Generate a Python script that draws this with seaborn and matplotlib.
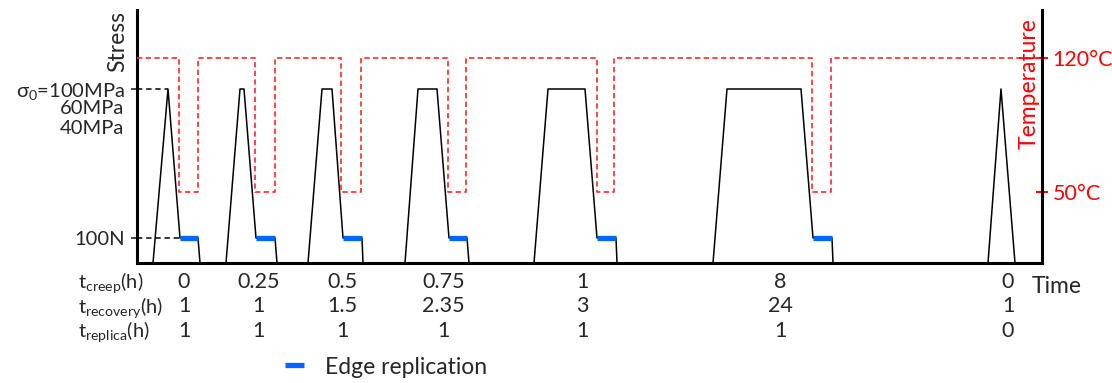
import matplotlib.pyplot as plt
import matplotlib.transforms as mtransforms
import pandas as pd
import seaborn as sns
from matplotlib.lines import Line2D

# ── Cycle schematic (time in arbitrary drawing units) ──────────
RISE_START = [16, 89, 171, 268, 397, 576, 851]
PEAK_START = [31, 103, 185, 281, 411, 590, 864]
PEAK_END = [31, 107, 195, 300, 448, 664, 864]
HOLD_START = [43, 119, 206, 312, 460, 676, None]
HOLD_END = [61, 138, 225, 330, 479, 695, None]
CYCLE_END = [63, 140, 226, 332, 480, 696, 878]
TIME_END = 905

STRESS_PEAK = 100     # sigma_0 (MPa)
STRESS_HOLD = 14.4    # 100 N load kept during replication
STRESS_TOP = 145.4

TEMP_DROP = [42, 118, 204, 311, 460, 675]
TEMP_BACK = [61, 138, 224, 329, 477, 694]
TEMP_HIGH = 120
TEMP_LOW = 50
TEMP_LIMITS = (12.9, 145.1)

T_CREEP = ["0", "0.25", "0.5", "0.75", "1", "8", "0"]
T_RECOVERY = ["1", "1", "1.5", "2.35", "3", "24", "1"]
T_REPLICA = ["1", "1", "1", "1", "1", "1", "0"]
ROW_LABELS = [r"t$_{\mathrm{creep}}$(h)",
              r"t$_{\mathrm{recovery}}$(h)",
              r"t$_{\mathrm{replica}}$(h)"]
STRESS_LABELS = ["100N", r"σ$_0$=100MPa"]
EXTRA_STRESS = ["60MPa", "40MPa"]

# ── Style ─────────────────────────────────────────────────────
W, H = 1112, 383
FS = 14.5          # stress tick labels and row labels
FS_TAB = 15.5      # values of the table below the time axis
FS_BIG = 16.5      # axis titles and legend
RED = "#ff0000"
RED_LINE = "#ff2a2a"
BLUE = "#0066ff"

sns.set_theme(style="ticks")
plt.rcParams["font.family"] = ["Lato", "DejaVu Sans"]
plt.rcParams["mathtext.fontset"] = "custom"
plt.rcParams["mathtext.rm"] = "Lato"
plt.rcParams["mathtext.it"] = "Lato:italic"
plt.rcParams["mathtext.bf"] = "Lato:bold"


def px(x, y):
    """Pixel position -> figure fraction."""
    return x / W, 1 - y / H


# ── Data tables ───────────────────────────────────────────────
stress_rows, hold_rows = [], []
for i in range(len(RISE_START)):
    pts = [(RISE_START[i], 0), (PEAK_START[i], STRESS_PEAK), (PEAK_END[i], STRESS_PEAK)]
    if float(T_REPLICA[i]) > 0:
        pts += [(HOLD_START[i], STRESS_HOLD), (HOLD_END[i], STRESS_HOLD)]
        hold_rows += [{"ciclo": i, "t": HOLD_START[i], "s": STRESS_HOLD},
                      {"ciclo": i, "t": HOLD_END[i], "s": STRESS_HOLD}]
    pts.append((CYCLE_END[i], 0))
    stress_rows += [{"ciclo": i, "t": t, "s": s} for t, s in pts]
df_stress = pd.DataFrame(stress_rows)
df_hold = pd.DataFrame(hold_rows)

temp_t, temp_v = [0], [TEMP_HIGH]
for a, b in zip(TEMP_DROP, TEMP_BACK):
    temp_t += [a, a, b, b]
    temp_v += [TEMP_HIGH, TEMP_LOW, TEMP_LOW, TEMP_HIGH]
temp_t.append(TIME_END)
temp_v.append(TEMP_HIGH)
df_temp = pd.DataFrame({"t": temp_t, "T": temp_v})

# ── Figure ────────────────────────────────────────────────────
fig = plt.figure(figsize=(W / 100, H / 100), dpi=100)
ax = fig.add_axes([137 / W, 1 - 263 / H, 905 / W, 253 / H])

sns.lineplot(data=df_stress, x="t", y="s", units="ciclo", estimator=None,
             sort=False, color="black", lw=1.1, ax=ax)
sns.lineplot(data=df_hold, x="t", y="s", units="ciclo", estimator=None,
             sort=False, color=BLUE, lw=3.8, solid_capstyle="butt", ax=ax)

# reference dashes from the stress axis
ax.plot([0, PEAK_START[0]], [STRESS_PEAK] * 2, color="black", lw=1.1, ls=(0, (3.5, 2.5)))
ax.plot([0, HOLD_START[0]], [STRESS_HOLD] * 2, color="black", lw=1.1, ls=(0, (3.5, 2.5)))

ax.set_xlim(0, TIME_END)
ax.set_ylim(0, STRESS_TOP)
ax.set(xlabel="", ylabel="")
ax.set_xticks([])
ax.set_yticks([STRESS_HOLD, STRESS_PEAK], labels=STRESS_LABELS)
ax.tick_params(axis="y", direction="out", length=4, width=1.2, labelsize=FS, pad=5)
for side in ["top", "right"]:
    ax.spines[side].set_visible(False)
for side in ["left", "bottom"]:
    ax.spines[side].set_linewidth(2.2)
    ax.spines[side].set_color("black")

ax2 = ax.twinx()
sns.lineplot(data=df_temp, x="t", y="T", estimator=None, sort=False,
             color=RED_LINE, lw=1.2, ls=(0, (3.2, 2.0)), ax=ax2)
ax2.set_ylim(*TEMP_LIMITS)
ax2.set(xlabel="", ylabel="")
ax2.set_yticks([TEMP_LOW, TEMP_HIGH], labels=[f"{TEMP_LOW}°C", f"{TEMP_HIGH}°C"])
ax2.tick_params(axis="y", direction="inout", length=9, width=1.5, colors=RED,
                labelsize=FS_TAB, pad=3)
for side in ["top", "left", "bottom"]:
    ax2.spines[side].set_visible(False)
ax2.spines["right"].set_linewidth(2.2)
ax2.spines["right"].set_color("black")

# ── Texts ─────────────────────────────────────────────────────
fig.text(*px(118, 41), "Stress", rotation=90, ha="center", va="center", fontsize=FS_BIG)
fig.text(*px(1029, 84), "Temperature", rotation=90, ha="center", va="center",
         fontsize=FS_BIG, color=RED)
for lab, y in zip(EXTRA_STRESS, [109, 128]):
    fig.text(*px(124, y), lab, ha="right", va="center", fontsize=FS)

trans = mtransforms.blended_transform_factory(ax.transData, fig.transFigure)
for row, (lab, vals, yb) in enumerate(zip(ROW_LABELS, [T_CREEP, T_RECOVERY, T_REPLICA],
                                          [288, 312.5, 337])):
    fig.text(*px(78, yb), lab, ha="left", va="baseline", fontsize=FS)
    for i, v in enumerate(vals):
        xc = (PEAK_START[i] + CYCLE_END[i]) / 2
        ax.text(xc, px(0, yb)[1], v, transform=trans, ha="center", va="baseline",
                fontsize=FS_TAB)
fig.text(*px(1032, 293), "Time", ha="left", va="baseline", fontsize=FS_BIG)

fig.legend(handles=[Line2D([], [], color=BLUE, lw=3.8, solid_capstyle="butt")],
           labels=["Edge replication"], loc="center left", bbox_to_anchor=px(285, 367),
           frameon=False, fontsize=FS_BIG, handlelength=0.85, handletextpad=0.9,
           borderpad=0, borderaxespad=0)

fig.savefig("out.png", dpi=100)
plt.close(fig)
